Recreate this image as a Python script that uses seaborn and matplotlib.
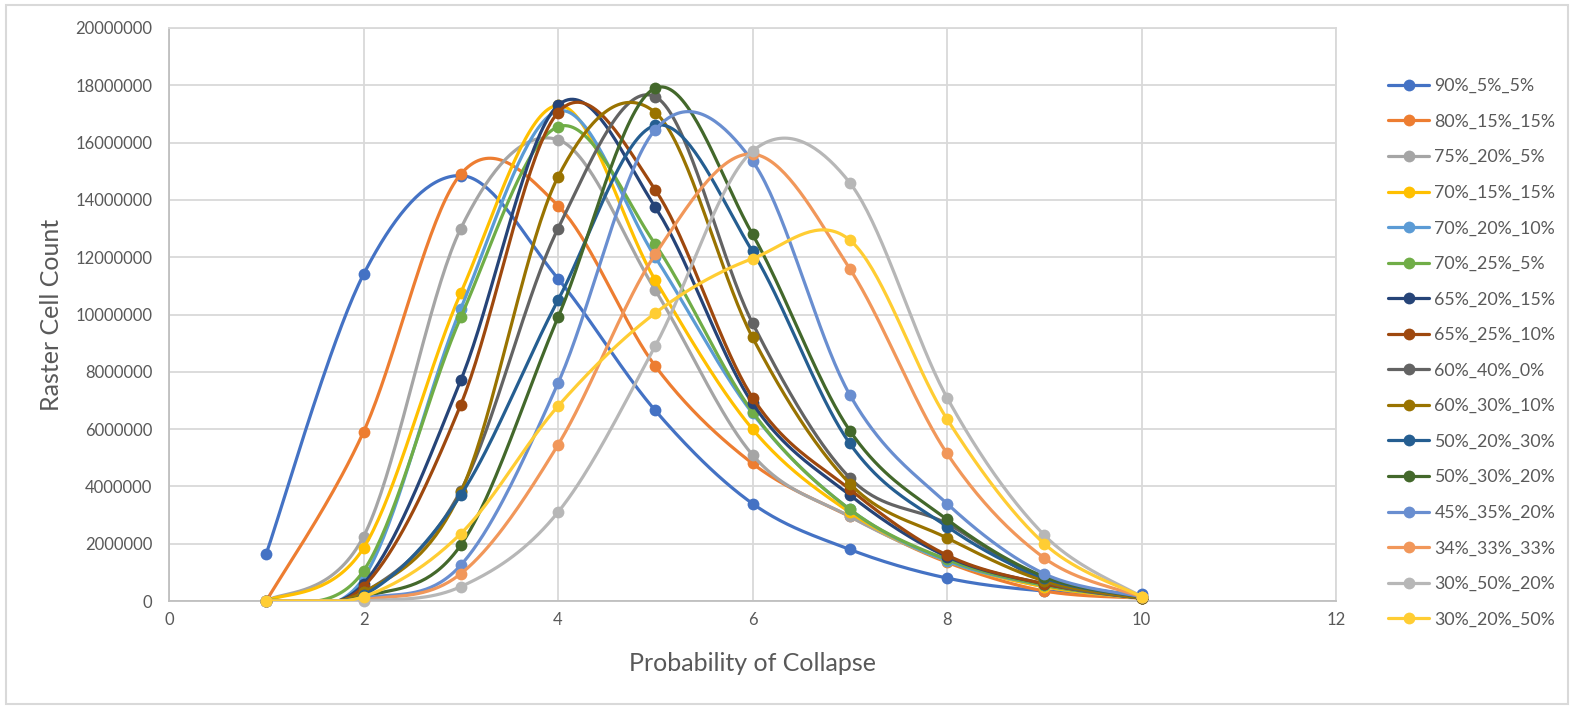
import numpy as np
import pandas as pd
import matplotlib
matplotlib.use("Agg")
import matplotlib.pyplot as plt
import seaborn as sns
from matplotlib.patches import Rectangle
from matplotlib.lines import Line2D

# ---- data ----
x_vals = [1, 2, 3, 4, 5, 6, 7, 8, 9, 10]
labels = ["90%_5%_5%", "80%_15%_15%", "75%_20%_5%", "70%_15%_15%", "70%_20%_10%",
          "70%_25%_5%", "65%_20%_15%", "65%_25%_10%", "60%_40%_0%", "60%_30%_10%",
          "50%_20%_30%", "50%_30%_20%", "45%_35%_20%", "34%_33%_33%", "30%_50%_20%",
          "30%_20%_50%"]
s_90_5_5 = [1650000, 11400000, 14850000, 11250000, 6650000, 3400000, 1800000, 800000, 350000, 250000]
s_80_15_15 = [0, 5900000, 14900000, 13800000, 8200000, 4800000, 2950000, 1350000, 350000, 100000]
s_75_20_5 = [0, 2250000, 13000000, 16100000, 10850000, 5100000, 2950000, 1400000, 500000, 100000]
s_70_15_15 = [0, 1850000, 10750000, 17300000, 11200000, 6000000, 3100000, 1400000, 500000, 100000]
s_70_20_10 = [0, 800000, 10200000, 17100000, 12000000, 6550000, 3200000, 1400000, 550000, 100000]
s_70_25_5 = [0, 1050000, 9900000, 16550000, 12450000, 6600000, 3200000, 1450000, 550000, 100000]
s_65_20_15 = [0, 600000, 7700000, 17300000, 13750000, 6900000, 3700000, 1550000, 600000, 100000]
s_65_25_10 = [0, 500000, 6850000, 17050000, 14350000, 7100000, 3900000, 1600000, 600000, 100000]
s_60_40_0 = [0, 300000, 3850000, 13000000, 17600000, 9700000, 4300000, 2700000, 700000, 100000]
s_60_30_10 = [0, 300000, 3800000, 14800000, 17050000, 9200000, 4100000, 2200000, 700000, 100000]
s_50_20_30 = [0, 200000, 3700000, 10500000, 16600000, 12200000, 5500000, 2600000, 800000, 150000]
s_50_30_20 = [0, 150000, 1950000, 9900000, 17900000, 12800000, 5950000, 2850000, 850000, 150000]
s_45_35_20 = [0, 100000, 1250000, 7600000, 16450000, 15350000, 7200000, 3400000, 950000, 150000]
s_34_33_33 = [0, 50000, 950000, 5450000, 12100000, 15600000, 11600000, 5150000, 1500000, 150000]
s_30_50_20 = [0, 0, 500000, 3100000, 8900000, 15700000, 14600000, 7100000, 2300000, 150000]
s_30_20_50 = [0, 150000, 2350000, 6800000, 10050000, 11950000, 12600000, 6350000, 2000000, 150000]
series = [s_90_5_5, s_80_15_15, s_75_20_5, s_70_15_15, s_70_20_10, s_70_25_5, s_65_20_15,
          s_65_25_10, s_60_40_0, s_60_30_10, s_50_20_30, s_50_30_20, s_45_35_20, s_34_33_33,
          s_30_50_20, s_30_20_50]
colors = ["#4472C4", "#ED7D31", "#A5A5A5", "#FFC000", "#5B9BD5", "#70AD47", "#264478",
          "#9E480E", "#636363", "#997300", "#255E91", "#43682B", "#698ED0", "#F1975A",
          "#B7B7B7", "#FFCD33"]


def smooth(xs, ys, n=40):
    """Excel-like smoothed line (Catmull-Rom Bezier) for drawing only."""
    P = np.column_stack([xs, ys]).astype(float)
    P = np.vstack([P[0], P, P[-1]])
    out = []
    t = np.linspace(0, 1, n)[:, None]
    for i in range(1, len(P) - 2):
        p0, p1, p2, p3 = P[i - 1], P[i], P[i + 1], P[i + 2]
        c1 = p1 + (p2 - p0) / 6
        c2 = p2 - (p3 - p1) / 6
        b = ((1 - t) ** 3) * p1 + 3 * ((1 - t) ** 2) * t * c1 + 3 * (1 - t) * t ** 2 * c2 + t ** 3 * p2
        out.append(b if i == 1 else b[1:])
    out = np.vstack(out)
    return out[:, 0], np.clip(out[:, 1], 0, None)


sns.set_theme(style="white")
plt.rcParams['font.family'] = ['Lato', 'DejaVu Sans']
text_color = "#595959"

fig = plt.figure(figsize=(15.73, 7.06), dpi=100)
W, H = 1573, 706
ax = fig.add_axes([169 / W, 1 - 601 / H, (1336 - 169) / W, (601 - 28) / H])

pts_rows = []
for lab, s in zip(labels, series):
    for xv, yv in zip(x_vals, s):
        pts_rows.append({"x": xv, "y": yv, "series": lab})
pts = pd.DataFrame(pts_rows)

for i, (lab, s, c) in enumerate(zip(labels, series, colors)):
    sx, sy = smooth(x_vals, s)
    curve = pd.DataFrame({"x": sx, "y": sy})
    sns.lineplot(data=curve, x="x", y="y", ax=ax, color=c, lw=2.3, sort=False,
                 estimator=None, zorder=3 + i * 0.01, legend=False)
    sub = pts[pts["series"] == lab]
    ax.plot(sub["x"], sub["y"], ls="none", marker="o", ms=8.5, color=c,
            markeredgewidth=0, zorder=3 + i * 0.01 + 0.005, clip_on=False)

ax.set_xlim(0, 12)
ax.set_ylim(0, 20000000)
ax.set_xticks(range(0, 13, 2))
ax.set_yticks(range(0, 20000001, 2000000))
ax.set_yticklabels([str(v) for v in range(0, 20000001, 2000000)])
ax.grid(True, color="#D9D9D9", lw=1.3)
ax.set_axisbelow(True)
for side in ["top", "right"]:
    ax.spines[side].set_color("#D9D9D9")
    ax.spines[side].set_linewidth(1.3)
for side in ["left", "bottom"]:
    ax.spines[side].set_color("#BFBFBF")
    ax.spines[side].set_linewidth(1.3)
ax.tick_params(axis="y", length=0, pad=12, labelsize=12, labelcolor=text_color)
ax.tick_params(axis="x", length=0, pad=8, labelsize=12, labelcolor=text_color)
ax.set_xlabel("Probability of Collapse", fontsize=18, color=text_color, labelpad=17)
ax.set_ylabel("Raster Cell Count", fontsize=18, color=text_color, labelpad=9)

handles = [Line2D([0], [0], color=c, lw=2.3, marker="o", ms=8.5, markeredgewidth=0)
           for c in colors]
fig.legend(handles, labels, loc="upper left", bbox_to_anchor=(1381 / W, 1 - 71 / H),
           frameon=False, fontsize=12.8, labelcolor=text_color, handlelength=2.3,
           handletextpad=0.3, labelspacing=1.1, borderaxespad=0)

fig.patches.append(Rectangle((6 / W, 2 / H), (1568 - 6) / W, (701 - 2) / H,
                             transform=fig.transFigure, fill=False,
                             edgecolor="#D9D9D9", lw=1.5))

fig.savefig("out.png", dpi=100)
